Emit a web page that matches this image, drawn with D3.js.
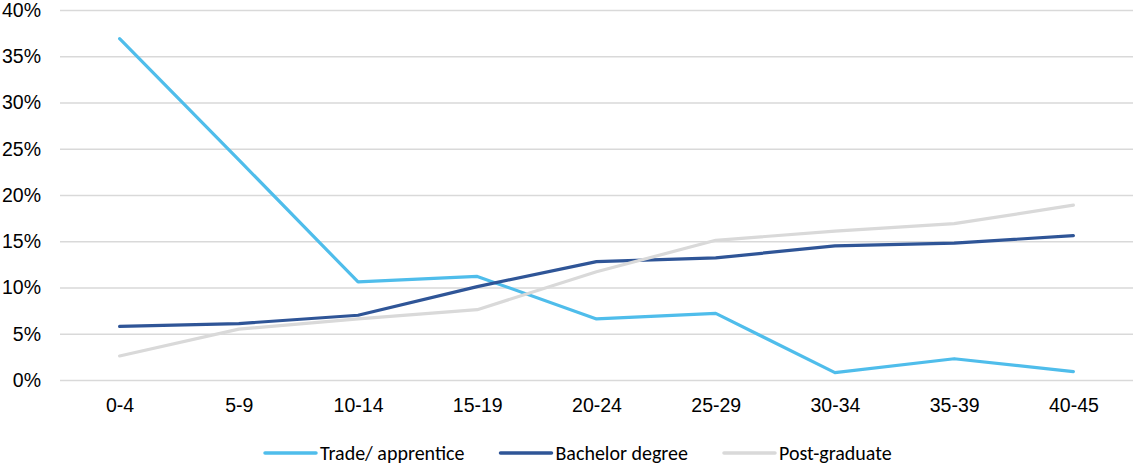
<!DOCTYPE html>
<html>
<head>
<meta charset="utf-8">
<script src="https://cdn.jsdelivr.net/npm/d3@7"></script>
<style>
  html, body { margin: 0; padding: 0; background: #fff; }
  svg { display: block; font-family: Carlito, "Liberation Sans", Arial, sans-serif; }
</style>
</head>
<body>
<svg id="chart" width="1135" height="466"></svg>
<script>
// Age-band categories along the x axis
const ageBands = ["0-4", "5-9", "10-14", "15-19", "20-24", "25-29", "30-34", "35-39", "40-45"];

// Share of each qualification group (percent)
const tradeApprentice = [36.9, 23.8, 10.6, 11.2, 6.6, 7.2, 0.8, 2.3, 0.9];
const bachelorDegree  = [5.8, 6.1, 7.0, 10.1, 12.8, 13.2, 14.5, 14.8, 15.6];
const postGraduate    = [2.6, 5.5, 6.6, 7.6, 11.7, 15.1, 16.1, 16.9, 18.9];

// Y-axis tick values (percent)
const yTicks = [0, 5, 10, 15, 20, 25, 30, 35, 40];

const seriesNames = ["Trade/ apprentice", "Bachelor degree", "Post-graduate"];
const seriesValues = [tradeApprentice, bachelorDegree, postGraduate];
const seriesColors = ["#4FBDEB", "#2F5597", "#D9D9D9"];

const svg = d3.select("#chart");
const plot = { left: 60, right: 1133, top: 10, bottom: 380 };
const fontSize = 19.5;

const x = d3.scalePoint().domain(ageBands).range([plot.left, plot.right]).padding(0.5);
const y = d3.scaleLinear().domain([0, 40]).range([plot.bottom, plot.top]);

// Horizontal gridlines with percent labels
const yAxis = d3.axisLeft(y).tickValues(yTicks).tickFormat(d => d + "%")
  .tickSize(-(plot.right - plot.left)).tickPadding(19);
const gy = svg.append("g").attr("transform", `translate(${plot.left},0)`).call(yAxis);
gy.select(".domain").remove();
gy.selectAll(".tick line").attr("stroke", "#D9D9D9").attr("stroke-width", 1.5);
gy.selectAll(".tick text").attr("fill", "#000").attr("font-size", fontSize).attr("font-family", null);

// Category labels below the baseline
const xAxis = d3.axisBottom(x).tickSize(0).tickPadding(18);
const gx = svg.append("g").attr("transform", `translate(0,${plot.bottom})`).call(xAxis);
gx.select(".domain").remove();
gx.selectAll(".tick text").attr("fill", "#000").attr("font-size", fontSize).attr("font-family", null);

// Series lines
const line = d3.line().x((d, i) => x(ageBands[i])).y(d => y(d));
seriesValues.forEach((vals, k) => {
  svg.append("path")
    .datum(vals)
    .attr("fill", "none")
    .attr("stroke", seriesColors[k])
    .attr("stroke-width", 3.2)
    .attr("stroke-linejoin", "round")
    .attr("stroke-linecap", "round")
    .attr("d", line);
});

// Legend along the bottom: swatch, label, then spacing to the next item
const legend = svg.append("g").attr("transform", "translate(0,453)");
const swatchLen = 51, swatchGap = 4, itemGap = 36;
let cursor = 265;
seriesNames.forEach((name, k) => {
  const g = legend.append("g").attr("transform", `translate(${cursor},0)`);
  g.append("line").attr("x1", 0).attr("x2", swatchLen).attr("y1", 0).attr("y2", 0)
    .attr("stroke", seriesColors[k]).attr("stroke-width", 3.5).attr("stroke-linecap", "round");
  const t = g.append("text").attr("x", swatchLen + swatchGap).attr("y", 0).attr("dy", "0.33em")
    .attr("font-size", 20).attr("fill", "#000").text(name);
  cursor += swatchLen + swatchGap + t.node().getComputedTextLength() + itemGap;
});
</script>
</body>
</html>
